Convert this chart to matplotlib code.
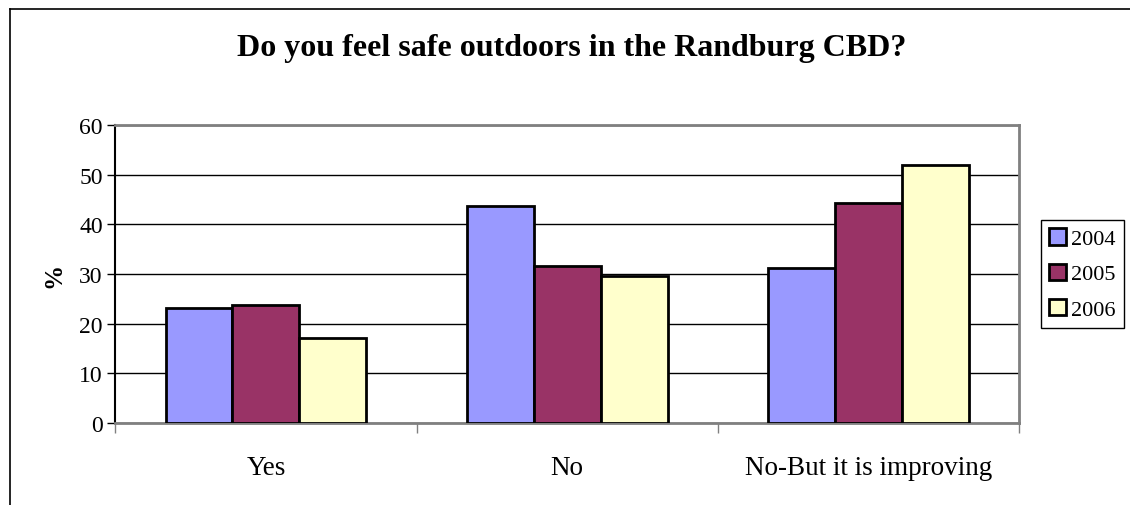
import numpy as np
import matplotlib.pyplot as plt
from matplotlib.lines import Line2D

plt.rcParams['font.family'] = ['Liberation Serif', 'DejaVu Serif']

# データ
categories = ["Yes", "No", "No-But it is improving"]
years = ["2004", "2005", "2006"]
v2004 = [23.2, 43.6, 31.2]
v2005 = [23.8, 31.7, 44.3]
v2006 = [17.2, 29.6, 51.9]
colors = ["#9999FF", "#993366", "#FFFFCC"]

fig = plt.figure(figsize=(11.3, 5.06), dpi=100)
ax = fig.add_axes([0.102, 0.162, 0.8, 0.589])

x = np.arange(len(categories))
w = 0.222
for k, vals in enumerate([v2004, v2005, v2006]):
    ax.bar(x + (k - 1) * w, vals, width=w, color=colors[k], edgecolor="black",
           linewidth=2, label=years[k], zorder=3)

ax.set_xlim(-0.5, 2.5)
ax.set_ylim(0, 60)
ax.set_yticks(np.arange(0, 61, 10))
ax.yaxis.grid(True, color="black", linewidth=1, zorder=0)
ax.tick_params(axis="y", labelsize=17, length=6, width=1, direction="out", pad=3)

# カテゴリ境界に目盛り、中央にラベル
ax.set_xticks([-0.5, 0.5, 1.5, 2.5])
ax.set_xticklabels([])
ax.tick_params(axis="x", which="major", length=7, width=1, color="#808080")
ax.set_xticks(x, minor=True)
ax.set_xticklabels(categories, minor=True, fontsize=19.5)
ax.tick_params(axis="x", which="minor", length=0, pad=23)

ax.spines["left"].set_color("black")
ax.spines["bottom"].set_color("#808080")
ax.spines["top"].set_color("#808080")
ax.spines["right"].set_color("#808080")
for s in ax.spines.values():
    s.set_linewidth(2)
ax.spines["left"].set_linewidth(1.5)

ax.set_ylabel("%", fontsize=18, fontweight="bold", labelpad=10)

fig.text(0.506, 0.905, "Do you feel safe outdoors in the Randburg CBD?",
         ha="center", va="center", fontsize=23, fontweight="bold")

leg = fig.legend(loc="center left", bbox_to_anchor=(0.921, 0.4565), fontsize=16,
                 handlelength=0.75, handleheight=0.75, handletextpad=0.25,
                 labelspacing=0.65, borderpad=0.38, borderaxespad=0,
                 fancybox=False, framealpha=1)
leg.get_frame().set_edgecolor("black")
leg.get_frame().set_linewidth(1)

# 外枠 (上と左のみ)
fig.add_artist(Line2D([0.009, 1.0], [0.981, 0.981], color="black", linewidth=1.2))
fig.add_artist(Line2D([0.009, 0.009], [0.0, 0.981], color="black", linewidth=1.2))

plt.savefig("out.png")
